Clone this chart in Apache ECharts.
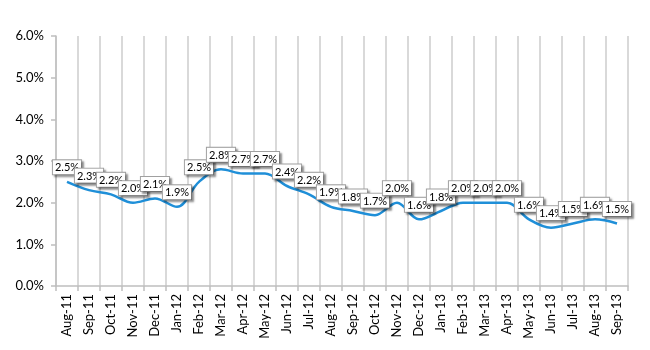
<!DOCTYPE html>
<html>
<head>
<meta charset="utf-8">
<script src="https://cdn.jsdelivr.net/npm/echarts@6/dist/echarts.min.js"></script>
<style>html,body{margin:0;padding:0;background:#fff}#c{width:650px;height:350px}</style>
</head>
<body>
<div id="c"></div>
<script>
const categories = ['Aug-11','Sep-11','Oct-11','Nov-11','Dec-11','Jan-12','Feb-12','Mar-12','Apr-12','May-12','Jun-12','Jul-12','Aug-12','Sep-12','Oct-12','Nov-12','Dec-12','Jan-13','Feb-13','Mar-13','Apr-13','May-13','Jun-13','Jul-13','Aug-13','Sep-13'];
const values = [2.5,2.3,2.2,2.0,2.1,1.9,2.5,2.8,2.7,2.7,2.4,2.2,1.9,1.8,1.7,2.0,1.6,1.8,2.0,2.0,2.0,1.6,1.4,1.5,1.6,1.5];
const yMin = 0, yMax = 6, yStep = 1;

const chart = echarts.init(document.getElementById('c'), null, {renderer: 'canvas'});
const font = 'Lato, "Liberation Sans", sans-serif';
chart.setOption({
  animation: false,
  grid: {left: 56, right: 22, top: 36, bottom: 64},
  xAxis: {
    type: 'category',
    data: categories,
    boundaryGap: true,
    axisLine: {lineStyle: {color: '#bfbfbf', width: 1.5}},
    axisTick: {show: true, alignWithLabel: false, length: 5, lineStyle: {color: '#bfbfbf', width: 1.5}},
    splitLine: {show: true, lineStyle: {color: '#d9d9d9', width: 2}},
    axisLabel: {rotate: 90, color: '#000', fontSize: 13, fontFamily: font, margin: 8, interval: 0}
  },
  yAxis: {
    type: 'value',
    min: yMin, max: yMax, interval: yStep,
    axisLine: {show: true, lineStyle: {color: '#bfbfbf', width: 1.5}},
    axisTick: {show: true, length: 5, lineStyle: {color: '#bfbfbf', width: 1.5}},
    splitLine: {show: false},
    axisLabel: {color: '#000', fontSize: 13, fontFamily: font, margin: 12, formatter: v => v.toFixed(1) + '%'}
  },
  series: [{
    type: 'line',
    data: values,
    smooth: 0.35,
    symbol: 'circle',
    symbolSize: 1,
    showSymbol: true,
    itemStyle: {color: 'rgba(0,0,0,0)'},
    lineStyle: {color: '#1f8fd8', width: 2.5},
    label: {
      show: true,
      position: 'top',
      distance: 7,
      formatter: p => p.value.toFixed(1) + '%',
      color: '#000',
      fontSize: 11,
      fontFamily: font,
      backgroundColor: '#fff',
      borderColor: '#a0a0a0',
      borderWidth: 1,
      padding: [2, 2, 1, 2],
      shadowColor: 'rgba(0,0,0,0.35)',
      shadowBlur: 2,
      shadowOffsetX: 2,
      shadowOffsetY: 2
    }
  }]
});
</script>
</body>
</html>
